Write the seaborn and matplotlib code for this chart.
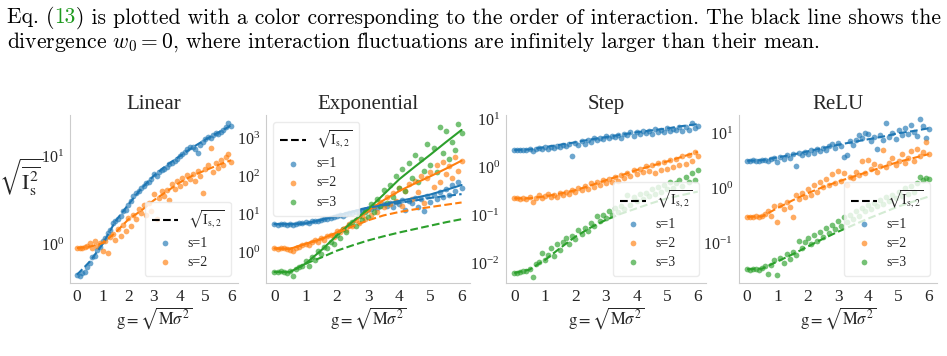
import matplotlib
matplotlib.use("Agg")
import matplotlib.pyplot as plt
from matplotlib.lines import Line2D
from matplotlib.ticker import NullFormatter
import numpy as np
import seaborn as sns

# g values of the simulated points (one point every 0.1)
g_pts = [0.0, 0.1, 0.2, 0.3, 0.4, 0.5, 0.6, 0.7, 0.8, 0.9,
         1.0, 1.1, 1.2, 1.3, 1.4, 1.5, 1.6, 1.7, 1.8, 1.9,
         2.0, 2.1, 2.2, 2.3, 2.4, 2.5, 2.6, 2.7, 2.8, 2.9,
         3.0, 3.1, 3.2, 3.3, 3.4, 3.5, 3.6, 3.7, 3.8, 3.9,
         4.0, 4.1, 4.2, 4.3, 4.4, 4.5, 4.6, 4.7, 4.8, 4.9,
         5.0, 5.1, 5.2, 5.3, 5.4, 5.5, 5.6, 5.7, 5.8, 5.9,
         6.0]
# g values of the theory curves
g_curve = [0.0, 0.5, 1.0, 1.5, 2.0, 2.5, 3.0, 3.5, 4.0, 4.5, 5.0, 5.5, 6.0]

# every y value below is log10 of sqrt(<I_s^2>)

# --- Linear ---
lin_s1 = [-0.35, -0.36, -0.33, -0.32, -0.26, -0.22, -0.15, -0.14, -0.07, -0.03,
          0.03, 0.07, 0.13, 0.16, 0.24, 0.26, 0.29, 0.32, 0.38, 0.39,
          0.44, 0.49, 0.55, 0.58, 0.60, 0.64, 0.66, 0.70, 0.71, 0.74,
          0.80, 0.78, 0.82, 0.84, 0.86, 0.88, 0.91, 0.92, 0.95, 0.97,
          1.00, 1.02, 1.05, 1.08, 1.10, 1.11, 1.08, 1.04, 1.13, 1.16,
          1.20, 1.22, 1.21, 1.24, 1.26, 1.25, 1.28, 1.30, 1.33, 1.38,
          1.35]
lin_s2 = [-0.05, -0.05, -0.04, -0.03, -0.02, 0.01, -0.04, 0.03, -0.02, 0.01,
          -0.08, 0.04, -0.10, 0.08, 0.12, 0.05, 0.17, 0.09, 0.22, 0.15,
          0.30, 0.21, 0.33, 0.29, 0.40, 0.35, 0.45, 0.33, 0.47, 0.38,
          0.57, 0.29, 0.52, 0.60, 0.55, 0.62, 0.50, 0.68, 0.63, 0.72,
          0.66, 0.75, 0.70, 0.79, 0.74, 0.80, 0.72, 0.83, 0.78, 0.58,
          0.85, 0.90, 1.09, 0.82, 0.92, 0.87, 0.96, 0.90, 0.99, 1.03,
          0.93]
lin_dash_s1 = [-0.35, -0.20, 0.00, 0.26, 0.45, 0.63, 0.78, 0.90, 1.00, 1.10, 1.19, 1.27, 1.35]
lin_dash_s2 = [-0.045, -0.03, 0.01, 0.13, 0.28, 0.38, 0.50, 0.60, 0.70, 0.78, 0.84, 0.90, 0.955]

# --- Exponential ---
exp_s1 = [0.74, 0.73, 0.75, 0.74, 0.72, 0.74, 0.73, 0.75, 0.77, 0.76,
          0.79, 0.77, 0.81, 0.83, 0.82, 0.86, 0.88, 0.87, 0.91, 0.93,
          0.95, 0.97, 0.96, 1.01, 1.03, 1.02, 1.07, 1.05, 1.10, 1.12,
          1.15, 1.13, 1.19, 1.16, 1.22, 1.27, 1.21, 1.30, 1.18, 1.33,
          1.26, 1.38, 1.12, 1.35, 1.29, 1.44, 1.20, 1.40, 1.08, 1.47,
          1.33, 1.52, 1.41, 1.58, 1.45, 1.67, 1.50, 1.78, 1.62, 1.85,
          1.70]
exp_s2 = [0.10, 0.09, 0.11, 0.10, 0.08, 0.06, 0.02, 0.12, 0.15, 0.19,
          0.23, 0.20, 0.27, 0.31, 0.28, 0.37, 0.33, 0.42, 0.45, 0.41,
          0.55, 0.52, 0.62, 0.58, 0.74, 0.70, 0.85, 0.78, 0.95, 0.88,
          1.12, 0.97, 1.22, 1.05, 1.33, 1.20, 1.45, 1.28, 1.55, 1.36,
          1.68, 1.22, 1.62, 1.80, 1.41, 1.88, 1.58, 2.02, 1.30, 1.95,
          2.10, 1.72, 2.30, 1.85, 2.38, 2.05, 2.28, 1.95, 2.50, 2.15,
          2.40]
exp_s3 = [-0.52, -0.53, -0.50, -0.52, -0.55, -0.50, -0.63, -0.45, -0.40, -0.35,
          -0.22, -0.36, -0.12, -0.20, 0.02, -0.05, 0.15, 0.10, 0.28, 0.22,
          0.45, 0.38, 0.60, 0.52, 0.72, 0.80, 0.70, 0.95, 0.85, 1.05,
          0.92, 1.28, 1.05, 1.40, 1.22, 1.65, 1.30, 1.78, 1.45, 2.02,
          1.70, 2.20, 1.60, 2.35, 1.95, 2.55, 1.85, 2.45, 2.15, 2.85,
          2.30, 2.75, 2.10, 3.30, 2.60, 3.20, 2.45, 2.90, 2.70, 3.38,
          3.15]
exp_solid_s1 = [0.74, 0.74, 0.76, 0.85, 0.96, 1.07, 1.175, 1.26, 1.35, 1.43, 1.52, 1.64, 1.77]
exp_solid_s2 = [0.10, 0.09, 0.22, 0.35, 0.52, 0.78, 1.09, 1.37, 1.61, 1.81, 2.00, 2.20, 2.41]
exp_solid_s3 = [-0.52, -0.52, -0.30, 0.05, 0.44, 0.80, 1.13, 1.52, 1.92, 2.25, 2.57, 2.90, 3.22]
exp_dash_s1 = [0.74, 0.74, 0.76, 0.85, 0.96, 1.07, 1.17, 1.24, 1.30, 1.36, 1.43, 1.48, 1.53]
exp_dash_s2 = [0.10, 0.09, 0.22, 0.35, 0.50, 0.68, 0.84, 0.97, 1.06, 1.13, 1.19, 1.25, 1.31]
exp_dash_s3 = [-0.52, -0.52, -0.30, -0.14, 0.04, 0.18, 0.31, 0.42, 0.52, 0.61, 0.70, 0.79, 0.87]

# --- Step ---
step_s1 = [0.37, 0.37, 0.36, 0.37, 0.36, 0.38, 0.35, 0.39, 0.41, 0.38,
           0.43, 0.40, 0.44, 0.41, 0.46, 0.43, 0.47, 0.45, 0.50, 0.25,
           0.52, 0.47, 0.55, 0.50, 0.58, 0.54, 0.62, 0.57, 0.63, 0.60,
           0.66, 0.61, 0.67, 0.64, 0.69, 0.63, 0.71, 0.68, 0.74, 0.66,
           0.75, 0.70, 0.77, 0.73, 0.76, 0.71, 0.80, 0.75, 0.79, 0.74,
           0.83, 0.76, 0.81, 0.78, 0.86, 0.77, 0.84, 0.79, 0.93, 0.82,
           0.88]
step_s2 = [-0.64, -0.64, -0.65, -0.63, -0.66, -0.62, -0.72, -0.63, -0.58, -0.64,
           -0.60, -0.56, -0.62, -0.57, -0.61, -0.52, -0.58, -0.50, -0.55, -0.46,
           -0.50, -0.42, -0.47, -0.38, -0.44, -0.33, -0.40, -0.30, -0.36, -0.26,
           -0.31, -0.24, -0.29, -0.20, -0.27, -0.15, -0.22, -0.12, -0.18, -0.05,
           -0.14, -0.02, -0.10, 0.03, -0.07, 0.05, -0.12, 0.10, -0.04, 0.12,
           -0.02, 0.15, 0.02, 0.18, 0.05, 0.24, 0.08, 0.27, 0.14, 0.32,
           0.25]
step_s3 = [-2.20, -2.19, -2.17, -2.15, -2.16, -2.12, -2.28, -2.02, -1.97, -1.78,
           -1.93, -1.82, -1.68, -1.85, -1.60, -1.72, -1.55, -1.46, -1.60, -1.42,
           -1.50, -1.30, -1.38, -1.25, -1.32, -1.15, -1.22, -1.00, -1.12, -0.98,
           -1.05, -0.90, -0.98, -0.85, -0.92, -0.80, -0.86, -0.58, -0.78, -0.62,
           -0.70, -0.55, -0.66, -0.52, -0.60, -0.45, -0.56, -0.40, -0.50, -0.36,
           -0.44, -0.30, -0.42, -0.32, -0.26, -0.38, -0.20, -0.30, -0.12, -0.25,
           -0.05]
step_dash_s1 = [0.37, 0.38, 0.43, 0.48, 0.53, 0.59, 0.64, 0.69, 0.74, 0.78, 0.82, 0.87, 0.91]
step_dash_s2 = [-0.64, -0.64, -0.60, -0.54, -0.47, -0.37, -0.26, -0.16, -0.05, 0.04, 0.13, 0.23, 0.33]
step_dash_s3 = [-2.20, -2.13, -1.93, -1.68, -1.44, -1.25, -1.09, -0.96, -0.85, -0.74, -0.64, -0.57, -0.50]

# --- ReLU ---
relu_s1 = [0.50, 0.50, 0.51, 0.50, 0.49, 0.51, 0.52, 0.50, 0.54, 0.55,
           0.47, 0.57, 0.53, 0.60, 0.55, 0.62, 0.40, 0.64, 0.60, 0.66,
           0.62, 0.69, 0.64, 0.72, 0.67, 0.74, 0.70, 0.77, 0.81, 0.73,
           0.82, 0.76, 0.56, 0.61, 0.85, 0.78, 0.88, 0.96, 0.92, 1.01,
           0.98, 0.86, 0.93, 0.72, 0.96, 0.88, 1.19, 0.93, 1.00, 0.90,
           1.05, 0.97, 1.10, 0.99, 1.14, 1.03, 0.94, 1.25, 1.13, 0.91,
           1.08]
relu_s2 = [-0.52, -0.52, -0.53, -0.51, -0.52, -0.50, -0.47, -0.42, -0.50, -0.33,
           -0.62, -0.30, -0.38, -0.25, -0.34, -0.52, -0.12, -0.20, -0.08, -0.16,
           -0.02, -0.12, 0.05, -0.06, 0.12, 0.02, 0.16, 0.06, 0.25, 0.10,
           0.32, 0.14, 0.28, 0.05, 0.20, 0.18, 0.30, 0.24, 0.49, 0.28,
           0.52, 0.35, 0.44, 0.30, 0.40, 0.70, 0.38, 0.46, 0.55, 0.42,
           0.50, 0.62, 0.45, 0.55, 0.68, 0.50, 0.72, 0.58, 0.66, 0.84,
           0.62]
relu_s3 = [-1.47, -1.48, -1.46, -1.47, -1.49, -1.45, -1.42, -1.56, -1.40, -1.30,
           -1.58, -1.26, -1.35, -1.20, -1.28, -1.15, -1.22, -0.95, -1.08, -0.98,
           -0.90, -1.02, -0.85, -0.95, -0.80, -0.88, -0.72, -0.82, -0.66, -0.74,
           -0.60, -0.68, -0.52, -0.62, -0.48, -0.56, -0.42, -0.50, -0.36, -0.42,
           -0.30, -0.38, -0.26, -0.33, -0.22, -0.28, -0.16, -0.24, -0.12, -0.18,
           -0.06, -0.14, 0.00, -0.10, 0.04, -0.06, 0.10, 0.20, 0.15, 0.18,
           0.16]
relu_dash_s1 = [0.50, 0.51, 0.56, 0.61, 0.67, 0.73, 0.79, 0.84, 0.89, 0.94, 1.00, 1.04, 1.09]
relu_dash_s2 = [-0.52, -0.51, -0.36, -0.22, -0.09, 0.02, 0.12, 0.21, 0.30, 0.39, 0.48, 0.55, 0.62]
relu_dash_s3 = [-1.47, -1.46, -1.33, -1.20, -1.06, -0.92, -0.79, -0.67, -0.55, -0.44, -0.33, -0.24, -0.15]

colors = ["#1f77b4", "#ff7f0e", "#2ca02c"]

panels = [
    dict(title="Linear", pts=[lin_s1, lin_s2], solid=[], dashed=[lin_dash_s1, lin_dash_s2],
         ylim=(0.36, 29.5), loc="lower right", box=(70, 238)),
    dict(title="Exponential", pts=[exp_s1, exp_s2, exp_s3],
         solid=[exp_solid_s1, exp_solid_s2, exp_solid_s3],
         dashed=[exp_dash_s1, exp_dash_s2, exp_dash_s3],
         ylim=(0.155, 4100), loc="upper left", box=(266, 470)),
    dict(title="Step", pts=[step_s1, step_s2, step_s3], solid=[],
         dashed=[step_dash_s1, step_dash_s2, step_dash_s3],
         ylim=(0.0039, 12.6), loc="lower right", box=(506, 706)),
    dict(title="ReLU", pts=[relu_s1, relu_s2, relu_s3], solid=[],
         dashed=[relu_dash_s1, relu_dash_s2, relu_dash_s3],
         ylim=(0.019, 21.4), loc="lower right", box=(739, 937)),
]

sns.set_style("white", {"axes.edgecolor": ".8"})
plt.rcParams["font.family"] = ["Liberation Serif", "DejaVu Serif"]
plt.rcParams["mathtext.fontset"] = "stix"

W, H = 947, 356
ax_top, ax_bottom = 115, 283
fig = plt.figure(figsize=(W / 100, H / 100), dpi=100)


def draw_panel(ax, p):
    for k, vals in enumerate(p["pts"]):
        sns.scatterplot(x=g_pts, y=10 ** np.array(vals), color=colors[k], s=17, alpha=0.65,
                        linewidth=0, ax=ax, label=f"s={k + 1}", legend=False)
    for k, vals in enumerate(p["solid"]):
        sns.lineplot(x=g_curve, y=10 ** np.array(vals), color=colors[k], lw=1.5, ax=ax)
    for k, vals in enumerate(p["dashed"]):
        sns.lineplot(x=g_curve, y=10 ** np.array(vals), color=colors[k], lw=1.5,
                     linestyle="--", ax=ax)
    ax.set_yscale("log")
    ax.set_ylim(*p["ylim"])
    ax.set_xlim(-0.27, 6.27)
    ax.set_xticks(range(7))
    ax.yaxis.set_minor_formatter(NullFormatter())
    ax.tick_params(axis="x", labelsize=12.5, pad=1)
    ax.tick_params(axis="y", labelsize=11.5, pad=1)
    sns.despine(ax=ax)
    ax.set_title(p["title"], fontsize=15, pad=4)
    ax.set_xlabel(r"$\mathrm{g} = \sqrt{\mathrm{M}\sigma^2}$", fontsize=12, labelpad=0)
    handles, labels = ax.get_legend_handles_labels()
    dash = Line2D([], [], color="k", ls="--", lw=1.5)
    ax.legend([dash] + handles, [r"$\sqrt{\mathrm{I_{s,2}}}$"] + labels, loc=p["loc"],
              fontsize=10, frameon=True, edgecolor=".9", framealpha=0.8,
              handlelength=1.9, handletextpad=0.7, borderpad=0.5, labelspacing=0.45)


for i, p in enumerate(panels):
    left, right = p["box"]
    ax = fig.add_axes([left / W, (H - ax_bottom) / H, (right - left) / W, (ax_bottom - ax_top) / H])
    draw_panel(ax, p)
    if i == 0:
        ax.set_ylabel(r"$\sqrt{\overline{\mathrm{I}_\mathrm{s}^2}}$", fontsize=16, rotation=0,
                      ha="center", va="center")
        ax.yaxis.set_label_coords(-0.29, 0.63)


# caption text above the figure (LaTeX-style paper text)
def caption_line(x_px, base_px, pieces, size=15.5):
    renderer = fig.canvas.get_renderer()
    x = x_px / W
    for txt, col in pieces:
        t = fig.text(x, 1 - base_px / H, txt, color=col, fontsize=size, family="cmr10",
                     math_fontfamily="cm", va="baseline", ha="left")
        x += t.get_window_extent(renderer=renderer).width / W


caption_line(7, 23.3, [("Eq. (", "black"), ("13", "#1f9a1f"),
                       (") is plotted with a color corresponding to the order of interaction. "
                        "The black line shows the", "black")])
caption_line(7, 47.5, [("divergence $w_0 = 0$, where interaction fluctuations are infinitely "
                        "larger than their mean.", "black")])

fig.savefig("out.png", dpi=100)
